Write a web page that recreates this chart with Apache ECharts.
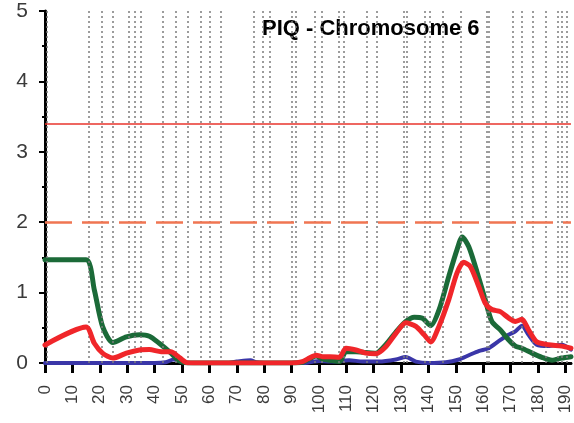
<!DOCTYPE html>
<html>
<head>
<meta charset="utf-8">
<script src="https://cdn.jsdelivr.net/npm/echarts@6/dist/echarts.min.js"></script>
<style>html,body{margin:0;padding:0;background:#fff;}#c{width:574px;height:423px;}</style>
</head>
<body>
<div id="c"></div>
<script>
var titleText = 'PIQ - Chromosome 6';
var xTicks = [0,10,20,30,40,50,60,70,80,90,100,110,120,130,140,150,160,170,180,190];
var yTicks = [0,1,2,3,4,5];
var markerPositions = [0.7,16.1,20.8,24.8,30.6,32.8,34.8,43.1,47.9,52.2,56.7,60.1,64.1,76.2,79.5,81.9,89.9,91.4,98.6,101.0,107.1,108.9,117.3,121.0,131.0,131.9,138.5,140.4,145.2,151.6,161.3,162.1,170.6,174.2,178.1,182.7,187.2,188.7,190.6];
var thresholdSolid = 3.4;
var thresholdDashed = 2.0;
var greenData = [[0,1.465],[15,1.465],[18,1.04],[21,0.52],[24.8,0.29],[29.7,0.37],[34.5,0.40],[38.1,0.38],[41.7,0.28],[46,0.14],[49,0.03],[52,0],[60,0],[70,0],[80,0],[90,0],[94,0.01],[97,0.07],[99,0.1],[101,0.06],[104,0.04],[107.5,0.02],[109.9,0.16],[113.5,0.16],[117.1,0.15],[120.8,0.14],[124.4,0.26],[128.1,0.44],[131.7,0.59],[134.8,0.65],[137.8,0.635],[140.8,0.53],[143.8,0.75],[147.4,1.23],[150.4,1.61],[152.3,1.79],[154.7,1.65],[157.8,1.28],[160.7,0.90],[163.1,0.59],[166.2,0.47],[169.2,0.33],[171.7,0.24],[174.1,0.21],[177.8,0.14],[181.4,0.08],[185.1,0.04],[188.6,0.07],[192,0.09]];
var redData = [[0,0.256],[15,0.51],[18,0.28],[21,0.14],[24.8,0.07],[29.7,0.14],[34.5,0.185],[38.1,0.19],[42.4,0.16],[46,0.16],[48.4,0.10],[51.4,0.01],[54,0],[60,0],[90,0],[94,0.02],[96,0.06],[99,0.11],[101.3,0.09],[104,0.09],[107.4,0.08],[109.9,0.21],[113.5,0.185],[117.1,0.14],[120.8,0.13],[124.4,0.23],[128.1,0.42],[131.7,0.57],[135.4,0.52],[138.4,0.40],[140.8,0.30],[143.8,0.52],[147.4,0.90],[150.4,1.28],[152.8,1.43],[155.3,1.37],[158.3,1.09],[160.7,0.85],[163.1,0.76],[166.2,0.73],[169.2,0.64],[171.7,0.59],[174.1,0.62],[176.5,0.47],[179.5,0.30],[183.8,0.26],[188.6,0.24],[192,0.21]];
var blueData = [[0,0],[40,0],[44,0.01],[47,0.05],[49,0.03],[52,0],[66,0],[70,0.02],[75,0.04],[77,0.01],[80,0],[95,0],[98,0.02],[100,0.03],[104,0.02],[111,0.04],[115.9,0.02],[122,0.02],[128.1,0.05],[131.7,0.085],[135.4,0.02],[140.2,0],[146.3,0.01],[151.1,0.05],[154.7,0.11],[158.3,0.17],[162,0.21],[165.6,0.31],[169.2,0.40],[171.7,0.45],[174.1,0.53],[176.5,0.40],[179.5,0.26],[183.8,0.24],[188.6,0.26],[192,0.19]];

var chart = echarts.init(document.getElementById('c'), null, {renderer:'canvas'});
var font = '"Liberation Sans", Arial, Helvetica, sans-serif';
function lineSeries(name, data, color, width, z) {
  return {name:name, type:'line', data:data, showSymbol:false, smooth:0.25, z:z,
    lineStyle:{color:color, width:width, join:'round', cap:'round'}, animation:false};
}
chart.setOption({
  backgroundColor:'#fff',
  animation:false,
  grid:{left:45, right:1.5, top:11, bottom:60, containLabel:false},
  graphic:[{type:'text', left:262, top:18, style:{text:titleText, font:'bold 22px '+font, fill:'#000'}}],
  xAxis:[{
    type:'value', min:0, max:192, interval:10,
    axisLine:{show:true, lineStyle:{color:'#000', width:2}},
    axisTick:{show:true, customValues:xTicks, length:10, lineStyle:{color:'#000', width:3}},
    axisLabel:{customValues:xTicks, rotate:90, margin:22, fontSize:17, color:'#3a3a3a', fontFamily:font},
    splitLine:{show:false}
  },{
    type:'value', position:'top', min:0, max:192,
    axisLine:{show:true, lineStyle:{color:'#000', width:3}},
    axisTick:{show:false}, axisLabel:{show:false}, splitLine:{show:false}
  }],
  yAxis:[{
    type:'value', min:0, max:5, interval:1,
    axisLine:{show:true, lineStyle:{color:'#000', width:3}},
    axisTick:{show:true, length:6, lineStyle:{color:'#000', width:2}},
    minorTick:{show:true, splitNumber:2, length:3, lineStyle:{color:'#000', width:2}},
    axisLabel:{customValues:yTicks, margin:17, fontSize:21, color:'#3a3a3a', fontFamily:font},
    splitLine:{show:false}
  },{
    type:'value', position:'right', min:0, max:5, interval:1,
    axisLine:{show:false}, axisTick:{show:false}, axisLabel:{show:false},
    minorTick:{show:true, splitNumber:2, length:-3, lineStyle:{color:'#000', width:2}},
    splitLine:{show:false}
  }],
  series:[
    {type:'line', data:[], z:1, silent:true,
      markLine:{silent:true, symbol:['none','none'], label:{show:false}, animation:false,
        lineStyle:{color:'#7c7c7c', width:1.5, type:[2,3]},
        data:markerPositions.map(function(v){return {xAxis:v};})}},
    {type:'line', data:[], z:2, silent:true,
      markLine:{silent:true, symbol:['none','none'], label:{show:false}, animation:false,
        data:[
          {yAxis:thresholdSolid, lineStyle:{color:'#e8342c', width:1.5, type:'solid'}},
          {yAxis:thresholdDashed, lineStyle:{color:'#f07552', width:2.5, type:[27,10]}}
        ]}},
    lineSeries('blue', blueData, '#3a36a8', 4, 3),
    lineSeries('green', greenData, '#1b6a38', 5, 4),
    lineSeries('red', redData, '#f0262a', 5, 5)
  ]
});
</script>
</body>
</html>
